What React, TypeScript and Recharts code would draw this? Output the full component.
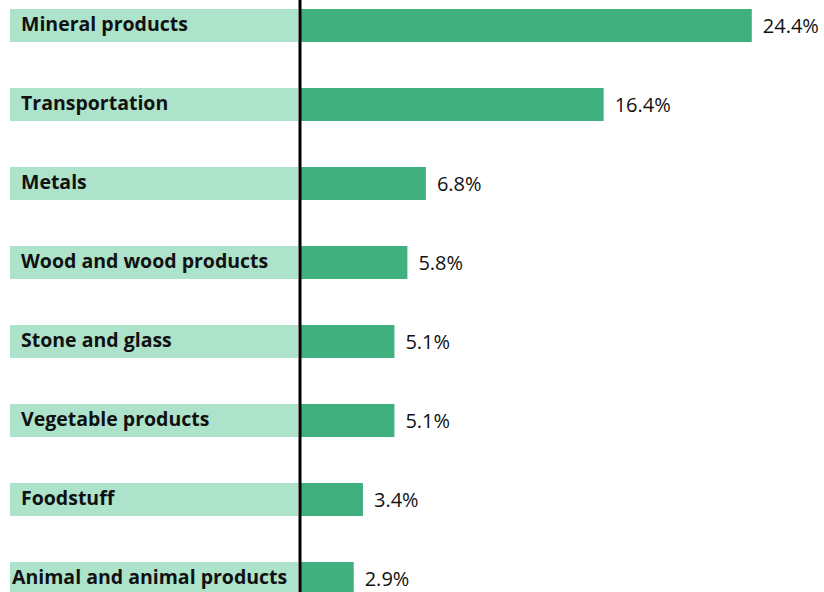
import React from 'react';
import { BarChart, Bar, XAxis, YAxis, LabelList } from 'recharts';

const categories = [
  'Mineral products',
  'Transportation',
  'Metals',
  'Wood and wood products',
  'Stone and glass',
  'Vegetable products',
  'Foodstuff',
  'Animal and animal products',
];
const shares = [24.4, 16.4, 6.8, 5.8, 5.1, 5.1, 3.4, 2.9];

const chartData = categories.map((name, i) => ({ name, value: shares[i] }));

const BAR = 33;
const FONT = "'Open Sans', 'Noto Sans', sans-serif";

const CategoryTick = (props: any) => {
  const { y, payload } = props;
  const label: string = payload.value;
  // long label gets pushed left so it fits in the box
  const tx = label.length > 24 ? 12 : 21;
  return (
    <g>
      <rect x={10} y={y - BAR / 2} width={288} height={BAR} fill="#ADE3CB" />
      <text
        x={tx}
        y={y - 1}
        dy="0.35em"
        textAnchor="start"
        fontFamily={FONT}
        fontWeight={700}
        fontSize={19.5}
        fill="#111"
      >
        {label}
      </text>
    </g>
  );
};

const App: React.FC = () => {
  return (
    <div style={{ position: 'absolute', left: 0, top: 0, width: 824, height: 592, overflow: 'hidden', background: '#fff' }}>
      <div style={{ marginTop: -14 }}>
        <BarChart
          width={824}
          height={632}
          data={chartData}
          layout="vertical"
          margin={{ top: 0, right: 0, bottom: 0, left: 10 }}
        >
          <XAxis type="number" hide domain={[0, 28.3]} />
          <YAxis
            type="category"
            dataKey="name"
            width={290}
            axisLine={{ stroke: '#000', strokeWidth: 3 }}
            tickLine={false}
            tick={<CategoryTick />}
            interval={0}
          />
          <Bar dataKey="value" fill="#40B07E" barSize={BAR} isAnimationActive={false}>
            <LabelList
              dataKey="value"
              position="right"
              offset={11}
              formatter={(v: any) => `${Number(v).toFixed(1)}%`}
              style={{ fontFamily: FONT, fontSize: 20, fill: '#111' }}
            />
          </Bar>
        </BarChart>
      </div>
    </div>
  );
};

export default App;
